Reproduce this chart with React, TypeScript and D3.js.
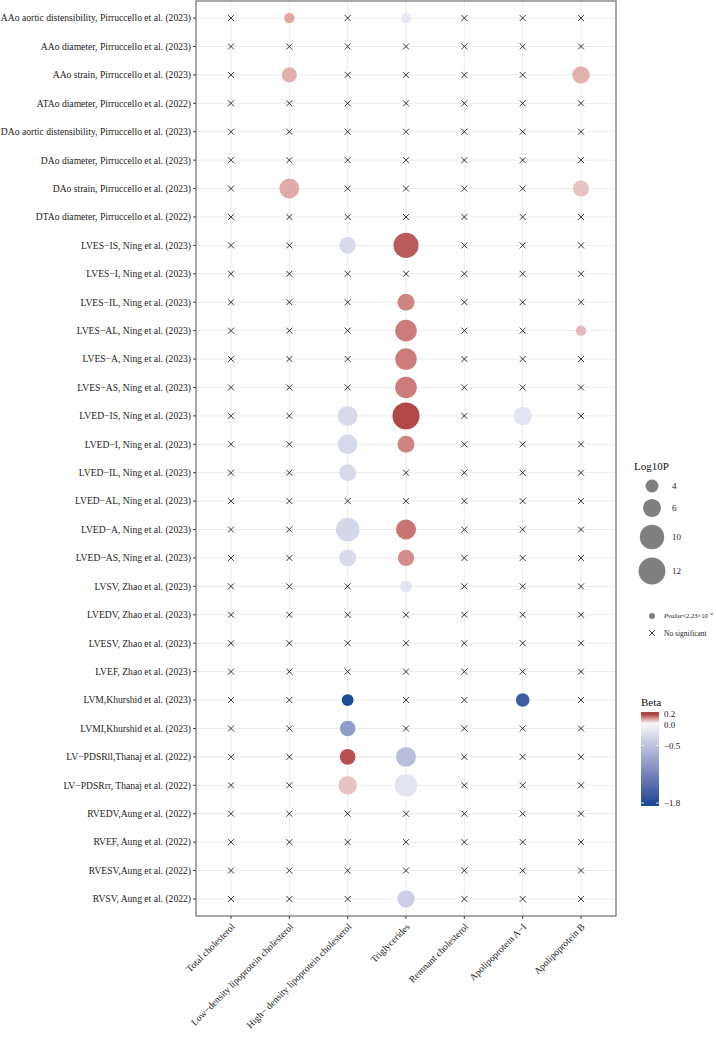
import * as d3 from "d3";

const W = 716;
const H = 1039;

const traits = [
  "AAo aortic distensibility, Pirruccello et al. (2023)",
  "AAo diameter, Pirruccello et al. (2023)",
  "AAo strain, Pirruccello et al. (2023)",
  "ATAo diameter, Pirruccello et al. (2022)",
  "DAo aortic distensibility, Pirruccello et al. (2023)",
  "DAo diameter, Pirruccello et al. (2023)",
  "DAo strain, Pirruccello et al. (2023)",
  "DTAo diameter, Pirruccello et al. (2022)",
  "LVES−IS, Ning et al. (2023)",
  "LVES−I, Ning et al. (2023)",
  "LVES−IL, Ning et al. (2023)",
  "LVES−AL, Ning et al. (2023)",
  "LVES−A, Ning et al. (2023)",
  "LVES−AS, Ning et al. (2023)",
  "LVED−IS, Ning et al. (2023)",
  "LVED−I, Ning et al. (2023)",
  "LVED−IL, Ning et al. (2023)",
  "LVED−AL, Ning et al. (2023)",
  "LVED−A, Ning et al. (2023)",
  "LVED−AS, Ning et al. (2023)",
  "LVSV, Zhao et al. (2023)",
  "LVEDV, Zhao et al. (2023)",
  "LVESV, Zhao et al. (2023)",
  "LVEF, Zhao et al. (2023)",
  "LVM,Khurshid et al. (2023)",
  "LVMI,Khurshid et al. (2023)",
  "LV−PDSRll,Thanaj et al. (2022)",
  "LV−PDSRrr, Thanaj et al. (2022)",
  "RVEDV,Aung et al. (2022)",
  "RVEF, Aung et al. (2022)",
  "RVESV,Aung et al. (2022)",
  "RVSV, Aung et al. (2022)",
];

const lipids = [
  "Total cholesterol",
  "Low−density lipoprotein cholesterol",
  "High− density lipoprotein cholesterol",
  "Triglycerides",
  "Remnant cholesterol",
  "Apolipoprotein A−I",
  "Apolipoprotein B",
];

// significant hits per lipid: [trait index, log10P, beta]
type Hit = [number, number, number];
const tcHits: Hit[] = [];
const ldlHits: Hit[] = [
  [0, 3.4, 0.09],
  [2, 4.7, 0.08],
  [6, 7.0, 0.085],
];
const hdlHits: Hit[] = [
  [8, 5.3, -0.28],
  [14, 7.0, -0.28],
  [15, 7.0, -0.28],
  [16, 5.5, -0.28],
  [18, 9.4, -0.3],
  [19, 5.5, -0.28],
  [24, 3.7, -1.8],
  [25, 4.9, -0.9],
  [26, 4.9, 0.19],
  [27, 6.2, 0.06],
];
const tgHits: Hit[] = [
  [0, 3.4, -0.15],
  [8, 10.5, 0.18],
  [10, 5.5, 0.13],
  [11, 8.0, 0.14],
  [12, 8.0, 0.14],
  [13, 8.0, 0.14],
  [14, 12.1, 0.2],
  [15, 5.5, 0.13],
  [18, 7.0, 0.15],
  [19, 5.2, 0.12],
  [20, 3.7, -0.18],
  [26, 7.0, -0.55],
  [27, 8.7, -0.18],
  [31, 5.7, -0.38],
];
const remnantHits: Hit[] = [];
const apoaHits: Hit[] = [
  [14, 6.2, -0.18],
  [24, 4.2, -1.6],
];
const apobHits: Hit[] = [
  [2, 5.7, 0.08],
  [6, 5.1, 0.06],
  [11, 3.4, 0.07],
];
const hitsByLipid = [tcHits, ldlHits, hdlHits, tgHits, remnantHits, apoaHits, apobHits];

const sizeBreaks = [4, 6, 10, 12];
const betaBreaks = [0.2, 0.0, -0.5, -1.8];

const FONT = "Liberation Serif";

export default function App() {
  const panel = { left: 196, right: 616, top: 1, bottom: 916 };

  const x = d3
    .scalePoint<string>()
    .domain(lipids)
    .range([panel.left, panel.right])
    .padding(0.6);
  const y = d3
    .scalePoint<string>()
    .domain(traits)
    .range([panel.top, panel.bottom])
    .padding(0.6);

  const sizeT = d3.scaleLinear().domain([3, 13]).range([0, 1]).clamp(true);
  const r = (v: number) => 3 + 11 * Math.sqrt(sizeT(v));

  const color = d3
    .scaleLinear<string>()
    .domain([-1.8, 0, 0.2])
    .range(["#1d4a96", "#f7f7fb", "#b2474a"])
    .interpolate(d3.interpolateLab);

  const barTop = 712;
  const barBottom = 806;
  const barY = d3.scaleLinear().domain([0.2, -1.8]).range([barTop + 2.5, barBottom - 3]);
  const gradStops = d3.range(0, 21).map((i) => {
    const v = 0.2 - (2.0 * i) / 20;
    return { off: (barY(v) - barTop) / (barBottom - barTop), c: color(v) };
  });

  const cross = (cx: number, cy: number, k: string) => (
    <path
      key={k}
      d={`M${cx - 3},${cy - 3}L${cx + 3},${cy + 3}M${cx - 3},${cy + 3}L${cx + 3},${cy - 3}`}
      stroke="#222"
      strokeWidth={0.9}
      fill="none"
    />
  );

  const marks: JSX.Element[] = [];
  lipids.forEach((lip, ci) => {
    const hits = hitsByLipid[ci];
    traits.forEach((tr, ri) => {
      const hit = hits.find((h) => h[0] === ri);
      const cx = x(lip)!;
      const cy = y(tr)!;
      if (hit) {
        marks.push(
          <circle key={`c${ci}-${ri}`} cx={cx} cy={cy} r={r(hit[1])} fill={color(hit[2])} />
        );
      } else {
        marks.push(cross(cx, cy, `x${ci}-${ri}`));
      }
    });
  });

  const legX = 652;
  const sizeY = [486, 508, 537, 571];

  return (
    <svg
      width={W}
      height={H}
      fontFamily={FONT}
      style={{ position: "absolute", left: 0, top: 0 }}
    >
      <defs>
        <linearGradient id="betaGrad" x1="0" y1="0" x2="0" y2="1">
          {gradStops.map((s, i) => (
            <stop key={i} offset={s.off} stopColor={s.c} />
          ))}
        </linearGradient>
      </defs>
      <rect x={0} y={0} width={W} height={H} fill="white" />
      {/* grid */}
      {lipids.map((l) => (
        <line key={l} x1={x(l)} x2={x(l)} y1={panel.top} y2={panel.bottom} stroke="#ebebeb" strokeWidth={1} />
      ))}
      {traits.map((t) => (
        <line key={t} x1={panel.left} x2={panel.right} y1={y(t)} y2={y(t)} stroke="#ebebeb" strokeWidth={1} />
      ))}
      {marks}
      <rect
        x={panel.left}
        y={panel.top}
        width={panel.right - panel.left}
        height={panel.bottom - panel.top}
        fill="none"
        stroke="#7a7a7a"
        strokeWidth={1.3}
      />
      {/* y axis */}
      {traits.map((t) => (
        <g key={t} transform={`translate(0,${y(t)})`}>
          <line x1={panel.left - 3} x2={panel.left} stroke="#333" strokeWidth={0.9} />
          <text
            x={panel.left - 5}
            dy="0.35em"
            textAnchor="end"
            fontSize={9.6}
            fontFamily={FONT}
            fill="#222"
          >
            {t}
          </text>
        </g>
      ))}
      {/* x axis */}
      {lipids.map((l) => (
        <g key={l} transform={`translate(${x(l)},${panel.bottom})`}>
          <line y1={0} y2={3} stroke="#333" strokeWidth={0.9} />
          <text
            transform="translate(2,9) rotate(-45)"
            textAnchor="end"
            dy="0.35em"
            fontSize={9.6}
            fontFamily={FONT}
            fill="#222"
          >
            {l}
          </text>
        </g>
      ))}
      {/* size legend */}
      <text x={634} y={470} fontSize={11} fontFamily={FONT} fill="#111">
        Log10P
      </text>
      {sizeBreaks.map((b, i) => (
        <g key={b}>
          <circle cx={legX} cy={sizeY[i]} r={r(b)} fill="#7f7f7f" />
          <text x={672} y={sizeY[i]} dy="0.35em" fontSize={9} fontFamily={FONT} fill="#222">
            {b}
          </text>
        </g>
      ))}
      {/* significance legend */}
      <circle cx={legX} cy={616} r={3} fill="#7f7f7f" />
      <text x={664} y={616} dy="0.35em" fontSize={6.6} fontFamily={FONT} fill="#222">
        <tspan fontStyle="italic">Pvalue</tspan>
        {"<2.23×10"}
        <tspan fontSize={4.5} dy="-3">
          −4
        </tspan>
      </text>
      {cross(legX, 633, "legx")}
      <text x={664} y={633} dy="0.35em" fontSize={7.5} fontFamily={FONT} fill="#222">
        No significant
      </text>
      {/* colour bar */}
      <text x={641} y={706} fontSize={11} fontFamily={FONT} fill="#111">
        Beta
      </text>
      <rect x={641} y={barTop} width={18} height={barBottom - barTop} fill="url(#betaGrad)" />
      {betaBreaks.map((b) => (
        <g key={b}>
          {b < 0 && (
            <>
              <line x1={641} x2={644} y1={barY(b)} y2={barY(b)} stroke="white" strokeWidth={0.8} />
              <line x1={656} x2={659} y1={barY(b)} y2={barY(b)} stroke="white" strokeWidth={0.8} />
            </>
          )}
          <text
            x={664}
            y={b === 0.2 ? barY(b) - 1 : b === 0 ? barY(b) + 1 : barY(b)}
            dy="0.35em"
            fontSize={9}
            fontFamily={FONT}
            fill="#222"
          >
            {b.toFixed(1).replace("-", "−")}
          </text>
        </g>
      ))}
    </svg>
  );
}
